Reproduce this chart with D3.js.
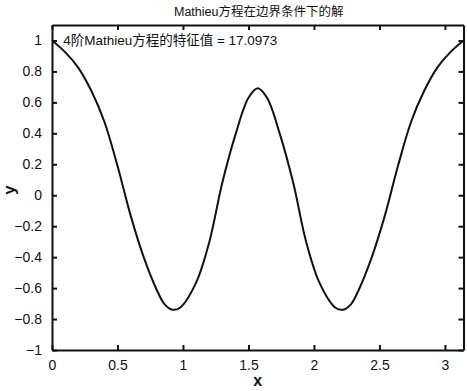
<!DOCTYPE html>
<html><head><meta charset="utf-8">
<script src="https://cdn.jsdelivr.net/npm/d3@7"></script>
<style>
body{margin:0;background:#fff;}
text{font-family:"Liberation Sans",Arial,"Noto Sans CJK SC",sans-serif;fill:#111;}
</style></head>
<body><svg id="c" width="467" height="391"></svg>
<script>
const titleText = "Mathieu方程在边界条件下的解";
const annotation = "4阶Mathieu方程的特征值 = 17.0973";
const xLabel = "x", yLabel = "y";
const xTicks = [0, 0.5, 1, 1.5, 2, 2.5, 3];
const yTicks = [-1, -0.8, -0.6, -0.4, -0.2, 0, 0.2, 0.4, 0.6, 0.8, 1];
const xs = [0, 0.1, 0.2, 0.3, 0.4, 0.5, 0.6, 0.7, 0.8, 0.86, 0.92, 0.98, 1.1, 1.2, 1.3, 1.4, 1.5, 1.5708,
            1.6416, 1.7416, 1.8416, 1.9416, 2.0416, 2.1616, 2.2216, 2.2816, 2.3416, 2.4416, 2.5416, 2.6416, 2.7416, 2.8416, 2.9416, 3.0416, 3.1416];
const ys = [1.0, 0.925, 0.825, 0.675, 0.475, 0.19, -0.13, -0.40, -0.612, -0.705, -0.74, -0.725, -0.565, -0.305, 0.08, 0.39, 0.63, 0.692,
            0.63, 0.39, 0.08, -0.305, -0.565, -0.725, -0.74, -0.705, -0.612, -0.40, -0.13, 0.19, 0.475, 0.675, 0.825, 0.925, 1.0];

const svg = d3.select("#c");
const L = 52, R = 463.5, T = 25, B = 350;
const x = d3.scaleLinear().domain([0, Math.PI]).range([L, R]);
const y = d3.scaleLinear().domain([-1, 1.1]).range([B, T]);

const fmt = d => d3.format("")(d);
const ax = (axis, tf) => svg.append("g").attr("transform", tf).call(axis)
  .call(g => { g.select(".domain").attr("stroke", "#111").attr("stroke-width", 2);
               g.selectAll(".tick line").attr("stroke", "#111").attr("stroke-width", 2); });

const xb = ax(d3.axisBottom(x).tickValues(xTicks).tickSize(-5).tickSizeOuter(0).tickPadding(10).tickFormat(fmt), `translate(0,${B})`);
xb.selectAll(".tick text").attr("font-size", 14).attr("fill", "#111").attr("font-family", "Liberation Sans, Arial, sans-serif");
ax(d3.axisTop(x).tickValues(xTicks).tickSize(-5).tickSizeOuter(0).tickFormat(""), `translate(0,${T})`);
const yl = ax(d3.axisLeft(y).tickValues(yTicks).tickSize(-5).tickSizeOuter(0).tickPadding(10).tickFormat(fmt), `translate(${L},0)`);
yl.selectAll(".tick text").attr("font-size", 14).attr("fill", "#111").attr("font-family", "Liberation Sans, Arial, sans-serif");
ax(d3.axisRight(y).tickValues(yTicks).tickSize(-5).tickSizeOuter(0).tickFormat(""), `translate(${R},0)`);

const data = xs.map((v, i) => [v, ys[i]]);
svg.append("path").datum(data)
  .attr("fill", "none").attr("stroke", "#111").attr("stroke-width", 2)
  .attr("d", d3.line().x(d => x(d[0])).y(d => y(d[1])).curve(d3.curveCatmullRom.alpha(0.5)));

svg.append("text").attr("x", (L + R) / 2 + 1).attr("y", 16).attr("text-anchor", "middle")
  .attr("font-size", 12.5).text(titleText);
svg.append("text").attr("x", x(0.085)).attr("y", y(1) + 5).attr("font-size", 13.5).text(annotation);
svg.append("text").attr("x", (L + R) / 2).attr("y", 386).attr("text-anchor", "middle")
  .attr("font-size", 16).attr("font-weight", "bold").text(xLabel);
svg.append("text").attr("transform", "translate(15,190) rotate(-90)").attr("text-anchor", "middle")
  .attr("font-size", 17).attr("font-weight", "bold").text(yLabel);
</script></body></html>
